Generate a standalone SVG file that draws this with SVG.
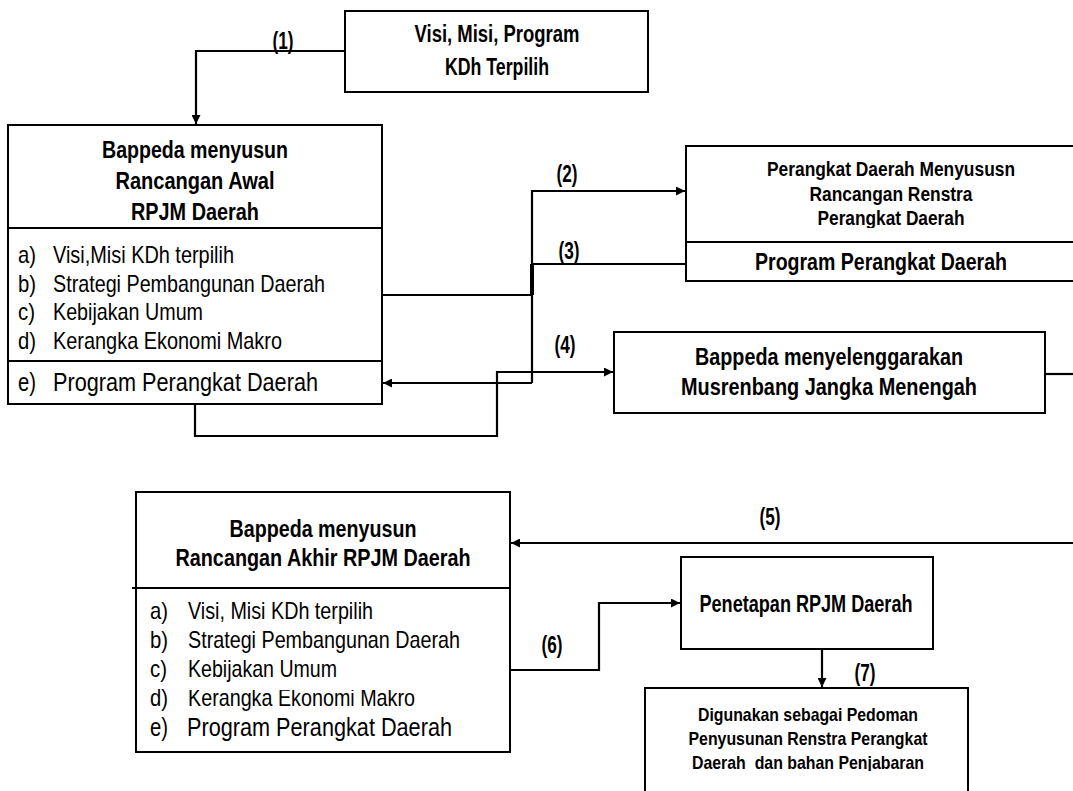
<svg xmlns="http://www.w3.org/2000/svg" width="1073" height="791" viewBox="0 0 1073 791">
<style>
text{font-family:'Liberation Sans Narrow','Arial Narrow','Liberation Sans',Arial,sans-serif;fill:#000}
.b{font-weight:bold}
.box{fill:#fff;stroke:#000;stroke-width:2}
.ln{fill:none;stroke:#000;stroke-width:2.2}
.c{text-anchor:middle}
.lbl{font-weight:bold;font-size:24px;text-anchor:middle}
</style>
<defs>
<marker id="ah" viewBox="0 0 10 10" refX="10" refY="5" markerWidth="10" markerHeight="9" markerUnits="userSpaceOnUse" orient="auto">
<path d="M0,0 L10,5 L0,10 z" fill="#000"/>
</marker>
<clipPath id="clipPD"><rect x="686" y="140" width="400" height="88"/></clipPath>
<clipPath id="clipKB"><rect x="136" y="690" width="380" height="21"/></clipPath>
<clipPath id="clipDB"><rect x="640" y="750" width="340" height="21"/></clipPath>
</defs>
<rect width="1073" height="791" fill="#fff"/>

<g id="node-visi">
<rect class="box" x="345" y="11" width="303" height="81"/>
<text class="b c" x="497" y="42" font-size="23" textLength="165" lengthAdjust="spacingAndGlyphs">Visi, Misi, Program</text>
<text class="b c" x="497" y="75" font-size="23" textLength="104" lengthAdjust="spacingAndGlyphs">KDh Terpilih</text>
</g>

<g id="node-rancangan-awal">
<rect class="box" x="8" y="125" width="374" height="279"/>
<line x1="8" y1="228" x2="382" y2="228" stroke="#000" stroke-width="2"/>
<line x1="8" y1="361" x2="382" y2="361" stroke="#000" stroke-width="2"/>
<text class="b c" x="195" y="158" font-size="24" textLength="186" lengthAdjust="spacingAndGlyphs">Bappeda menyusun</text>
<text class="b c" x="195" y="189" font-size="24" textLength="159" lengthAdjust="spacingAndGlyphs">Rancangan Awal</text>
<text class="b c" x="195" y="220" font-size="24" textLength="128" lengthAdjust="spacingAndGlyphs">RPJM Daerah</text>
<g font-size="24">
<text x="18" y="263" textLength="18" lengthAdjust="spacingAndGlyphs">a)</text>
<text x="53" y="263" textLength="181" lengthAdjust="spacingAndGlyphs">Visi,Misi KDh terpilih</text>
<text x="18" y="292" textLength="18" lengthAdjust="spacingAndGlyphs">b)</text>
<text x="53" y="292" textLength="272" lengthAdjust="spacingAndGlyphs">Strategi Pembangunan Daerah</text>
<text x="18" y="320" textLength="17" lengthAdjust="spacingAndGlyphs">c)</text>
<text x="53" y="320" textLength="150" lengthAdjust="spacingAndGlyphs">Kebijakan Umum</text>
<text x="18" y="349" textLength="18" lengthAdjust="spacingAndGlyphs">d)</text>
<text x="53" y="349" textLength="229" lengthAdjust="spacingAndGlyphs">Kerangka Ekonomi Makro</text>
</g>
<text x="18" y="391" font-size="26" textLength="18" lengthAdjust="spacingAndGlyphs">e)</text>
<text x="53" y="391" font-size="26" textLength="265" lengthAdjust="spacingAndGlyphs">Program Perangkat Daerah</text>
</g>

<g id="node-perangkat-daerah">
<rect class="box" x="686" y="146" width="400" height="96"/>
<text class="b c" x="891" y="176" font-size="20" textLength="248" lengthAdjust="spacingAndGlyphs">Perangkat Daerah Menyususn</text>
<text class="b c" x="891" y="201" font-size="20" textLength="163" lengthAdjust="spacingAndGlyphs">Rancangan Renstra</text>
<text class="b c" x="891" y="225" font-size="20" textLength="147" lengthAdjust="spacingAndGlyphs" clip-path="url(#clipPD)">Perangkat Daerah</text>
</g>

<g id="node-program-perangkat">
<rect class="box" x="686" y="242" width="400" height="39"/>
<text class="b c" x="881" y="270" font-size="23" textLength="252" lengthAdjust="spacingAndGlyphs">Program Perangkat Daerah</text>
</g>

<g id="node-musrenbang">
<rect class="box" x="614" y="332" width="431" height="81"/>
<text class="b c" x="829" y="365" font-size="23" textLength="268" lengthAdjust="spacingAndGlyphs">Bappeda menyelenggarakan</text>
<text class="b c" x="829" y="395" font-size="23" textLength="296" lengthAdjust="spacingAndGlyphs">Musrenbang Jangka Menengah</text>
</g>

<g id="node-rancangan-akhir">
<rect class="box" x="136" y="492" width="374" height="260"/>
<line x1="132" y1="588" x2="510" y2="588" stroke="#000" stroke-width="2"/>
<text class="b c" x="323" y="537" font-size="23" textLength="187" lengthAdjust="spacingAndGlyphs">Bappeda menyusun</text>
<text class="b c" x="323" y="566" font-size="23" textLength="295" lengthAdjust="spacingAndGlyphs">Rancangan Akhir RPJM Daerah</text>
<g font-size="24">
<text x="150" y="619" textLength="18" lengthAdjust="spacingAndGlyphs">a)</text>
<text x="188" y="619" textLength="185" lengthAdjust="spacingAndGlyphs">Visi, Misi KDh terpilih</text>
<text x="150" y="648" textLength="18" lengthAdjust="spacingAndGlyphs">b)</text>
<text x="188" y="648" textLength="272" lengthAdjust="spacingAndGlyphs">Strategi Pembangunan Daerah</text>
<text x="150" y="677" textLength="17" lengthAdjust="spacingAndGlyphs">c)</text>
<text x="188" y="677" textLength="149" lengthAdjust="spacingAndGlyphs">Kebijakan Umum</text>
<text x="150" y="706" textLength="18" lengthAdjust="spacingAndGlyphs">d)</text>
<text x="188" y="706" textLength="227" lengthAdjust="spacingAndGlyphs" clip-path="url(#clipKB)">Kerangka Ekonomi Makro</text>
</g>
<text x="150" y="736" font-size="26" textLength="18" lengthAdjust="spacingAndGlyphs">e)</text>
<text x="187" y="736" font-size="26" textLength="265" lengthAdjust="spacingAndGlyphs">Program Perangkat Daerah</text>
</g>

<g id="node-penetapan">
<rect class="box" x="681" y="557" width="252" height="92"/>
<text class="b c" x="806" y="612" font-size="23" textLength="213" lengthAdjust="spacingAndGlyphs">Penetapan RPJM Daerah</text>
</g>

<g id="node-pedoman">
<rect class="box" x="645" y="688" width="323" height="120"/>
<text class="b c" x="808" y="721" font-size="19" textLength="220" lengthAdjust="spacingAndGlyphs">Digunakan sebagai Pedoman</text>
<text class="b c" x="808" y="745" font-size="19" textLength="239" lengthAdjust="spacingAndGlyphs">Penyusunan Renstra Perangkat</text>
<text class="b c" x="808" y="769" font-size="19" textLength="232" lengthAdjust="spacingAndGlyphs" clip-path="url(#clipDB)" xml:space="preserve">Daerah  dan bahan Penjabaran</text>
</g>

<g id="connectors">
<path class="ln" d="M345,51 H196 V124" marker-end="url(#ah)"/>
<path class="ln" d="M382,295 H532"/>
<path class="ln" d="M532,383 V191 H685" marker-end="url(#ah)"/>
<path fill="none" stroke="#000" stroke-width="4" d="M532,264 V295"/>
<path class="ln" d="M532,264 H686"/>
<path class="ln" d="M532,383 H383" marker-end="url(#ah)"/>
<path class="ln" d="M195,404 V436 H497 V372 H613" marker-end="url(#ah)"/>
<path class="ln" d="M1045,374 H1073"/>
<path class="ln" d="M1073,543 H511" marker-end="url(#ah)"/>
<path class="ln" d="M510,670 H599 V603 H680" marker-end="url(#ah)"/>
<path class="ln" d="M822,649 V687" marker-end="url(#ah)"/>
<text class="lbl" x="283" y="49" textLength="21" lengthAdjust="spacingAndGlyphs">(1)</text>
<text class="lbl" x="567" y="182" textLength="21" lengthAdjust="spacingAndGlyphs">(2)</text>
<text class="lbl" x="569" y="259" textLength="21" lengthAdjust="spacingAndGlyphs">(3)</text>
<text class="lbl" x="565" y="353" textLength="21" lengthAdjust="spacingAndGlyphs">(4)</text>
<text class="lbl" x="770" y="525" textLength="21" lengthAdjust="spacingAndGlyphs">(5)</text>
<text class="lbl" x="552" y="653" textLength="21" lengthAdjust="spacingAndGlyphs">(6)</text>
<text class="lbl" x="865" y="681" textLength="21" lengthAdjust="spacingAndGlyphs">(7)</text>
</g>
</svg>
